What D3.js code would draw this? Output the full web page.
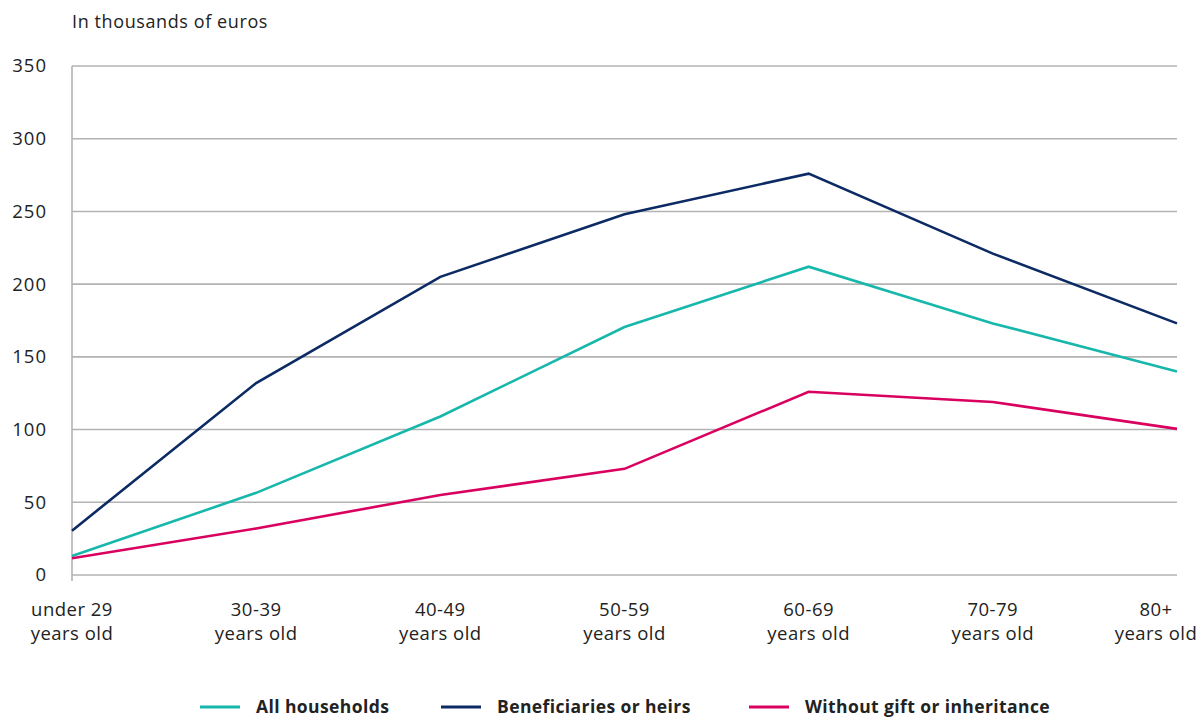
<!DOCTYPE html>
<html><head><meta charset="utf-8">
<script src="https://cdn.jsdelivr.net/npm/d3@7"></script>
<style>body{margin:0;background:#fff;} text{font-family:"Open Sans",Lato,sans-serif;}</style>
</head><body>
<svg id="c" width="1199" height="718"></svg>
<script>
const categories = ["under 29|years old","30-39|years old","40-49|years old","50-59|years old","60-69|years old","70-79|years old","80+|years old"];
const allHouseholds = [13, 56.5, 109, 170.5, 212, 173, 140];
const beneficiaries = [30.5, 132, 205, 248, 276, 221, 173];
const withoutGift = [11.5, 32, 55, 73, 126, 119, 100.5];
const yTicks = [0, 50, 100, 150, 200, 250, 300, 350];
const seriesNames = ["All households","Beneficiaries or heirs","Without gift or inheritance"];
const seriesColors = ["#17b8ab","#0c2a63","#d9005f"];

const svg = d3.select("#c");
const L = 72, R = 1177, T = 66, B = 575;
const x = d3.scalePoint().domain(categories).range([L, R]);
const y = d3.scaleLinear().domain([0, 350]).range([B, T]);

// grid
svg.append("g").selectAll("line").data(yTicks).join("line")
  .attr("x1", L).attr("x2", R).attr("y1", d => y(d)).attr("y2", d => y(d))
  .attr("stroke", "#b3b3b3").attr("stroke-width", 1.6);
svg.append("line").attr("x1", L).attr("x2", L).attr("y1", T).attr("y2", B + 6)
  .attr("stroke", "#b3b3b3").attr("stroke-width", 1.6);

// y labels
svg.append("g").selectAll("text").data(yTicks).join("text")
  .attr("x", 47).attr("y", d => y(d)).attr("dy", "0.35em")
  .attr("text-anchor", "end").attr("font-size", 18.5).attr("letter-spacing", 1).attr("fill", "#222")
  .text(d => d);

svg.append("text").attr("x", 72).attr("y", 28).attr("font-size", 18).attr("letter-spacing", 0.6).attr("fill", "#222")
  .text("In thousands of euros");

// x labels
const lastCx = 1156;
const xl = svg.append("g").selectAll("text").data(categories).join("text")
  .attr("text-anchor", "middle")
  .attr("font-size", 18.5).attr("letter-spacing", 0.5).attr("fill", "#222");
xl.each(function(d, i) {
  const parts = d.split("|");
  const t = d3.select(this);
  const cx = i === categories.length - 1 ? lastCx : x(d);
  parts.forEach((p, j) => {
    t.append("tspan").attr("x", cx).attr("y", 616 + j * 24).text(p);
  });
});

// lines
const line = d3.line().x((d, i) => x(categories[i])).y(d => y(d));
[allHouseholds, beneficiaries, withoutGift].forEach((s, k) => {
  svg.append("path").datum(s).attr("d", line).attr("fill", "none")
    .attr("stroke", seriesColors[k]).attr("stroke-width", 2.6).attr("stroke-linejoin", "miter");
});

// legend
const legX = [200, 441, 749];
const lg = svg.append("g").selectAll("g").data(seriesNames).join("g")
  .attr("transform", (d, i) => `translate(${legX[i]},707)`);
lg.append("line").attr("x1", 0).attr("x2", 40).attr("stroke", (d, i) => seriesColors[i]).attr("stroke-width", 3);
lg.append("text").attr("x", 56).attr("dy", "0.35em").attr("font-size", 17.5).attr("font-weight", "bold")
  .attr("letter-spacing", 0.4).attr("fill", "#222").text(d => d);
</script>
</body></html>
